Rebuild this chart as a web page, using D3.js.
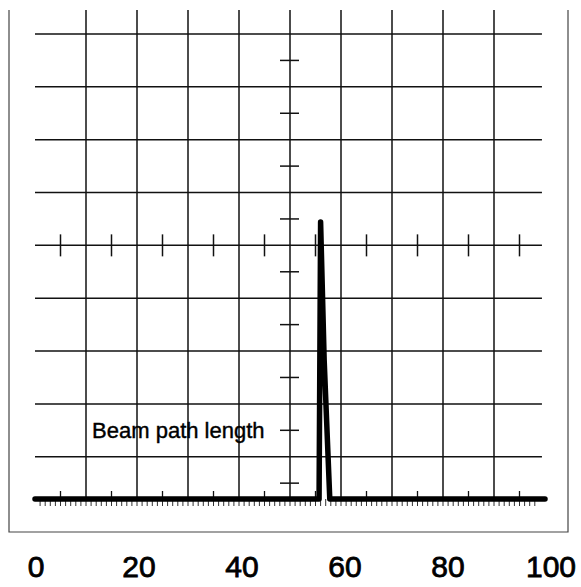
<!DOCTYPE html>
<html>
<head>
<meta charset="utf-8">
<script src="https://cdn.jsdelivr.net/npm/d3@7/dist/d3.min.js"></script>
<style>
  html, body { margin: 0; padding: 0; background: #fff; }
  svg { display: block; }
</style>
</head>
<body>
<svg id="chart" width="581" height="587"></svg>
<script>
// ---- data ----
const xTickLabels = [0, 20, 40, 60, 80, 100];
const xGridLines = [10, 20, 30, 40, 50, 60, 70, 80, 90];
const yGridLines = [0.8, 1.8, 2.8, 3.8, 4.8, 5.8, 6.8, 7.8, 8.8];
const xMidTicks = [5, 15, 25, 35, 45, 55, 65, 75, 85, 95];
const yMidTicks = [0.3, 1.3, 2.3, 3.3, 4.3, 5.3, 6.3, 7.3, 8.3];
const xMinorTicks = d3.range(1, 99);
const traceX = [0, 55.7, 56.0, 56.7, 57.8, 100];
const traceY = [0, 0, 5.24, 2.63, 0, 0];
const labelText = "Beam path length";
const labelPos = [11.2, 1.15];

// ---- scales ----
const svg = d3.select("#chart");
const x = d3.scaleLinear().domain([0, 100]).range([35, 545]);
const xLabel = d3.scaleLinear().domain([0, 100]).range([36, 551]);
const y = d3.scaleLinear().domain([0, 8.8]).range([499, 34]);
const topY = 10;

// frame (left, right, bottom)
svg.append("path")
  .attr("d", `M9,${topY} V532 H568 V${topY}`)
  .attr("fill", "none").attr("stroke", "#444").attr("stroke-width", 1.2);

// vertical grid lines
svg.append("g").selectAll("line").data(xGridLines).join("line")
  .attr("x1", d => x(d)).attr("x2", d => x(d))
  .attr("y1", topY).attr("y2", y(0))
  .attr("stroke", "#111").attr("stroke-width", 1.5);

// horizontal grid lines
svg.append("g").selectAll("line").data(yGridLines).join("line")
  .attr("x1", x(0)).attr("x2", x(99.4))
  .attr("y1", d => y(d)).attr("y2", d => y(d))
  .attr("stroke", "#111").attr("stroke-width", 1.5);

// ticks on central horizontal line
svg.append("g").selectAll("line").data(xMidTicks).join("line")
  .attr("x1", d => x(d)).attr("x2", d => x(d))
  .attr("y1", y(4.8) - 11).attr("y2", y(4.8) + 11)
  .attr("stroke", "#111").attr("stroke-width", 1.5);

// ticks on central vertical line
svg.append("g").selectAll("line").data(yMidTicks).join("line")
  .attr("x1", x(50) - 10).attr("x2", x(50) + 9)
  .attr("y1", d => y(d)).attr("y2", d => y(d))
  .attr("stroke", "#111").attr("stroke-width", 1.5);

// ticks above baseline
svg.append("g").selectAll("line").data(xMidTicks).join("line")
  .attr("x1", d => x(d)).attr("x2", d => x(d))
  .attr("y1", y(0) - 8).attr("y2", y(0))
  .attr("stroke", "#111").attr("stroke-width", 1.3);

// minor ticks below baseline
svg.append("g").selectAll("line").data(xMinorTicks).join("line")
  .attr("x1", d => x(d)).attr("x2", d => x(d))
  .attr("y1", y(0)).attr("y2", y(0) + 7)
  .attr("stroke", "#333").attr("stroke-width", 1);

// trace
const line = d3.line().x((d, i) => x(traceX[i])).y((d, i) => y(traceY[i]));
svg.append("path")
  .attr("d", line(traceX))
  .attr("fill", "none").attr("stroke", "#000").attr("stroke-width", 5.5)
  .attr("stroke-linejoin", "round").attr("stroke-linecap", "round");

// annotation
svg.append("text")
  .attr("x", x(labelPos[0])).attr("y", y(labelPos[1]))
  .attr("font-family", "Liberation Sans, Arial, sans-serif")
  .attr("font-size", 22).attr("fill", "#000")
  .attr("stroke", "#000").attr("stroke-width", 0.4)
  .text(labelText);

// x tick labels
svg.append("g").selectAll("text").data(xTickLabels).join("text")
  .attr("x", d => xLabel(d)).attr("y", 577)
  .attr("text-anchor", "middle")
  .attr("font-family", "Liberation Sans, Arial, sans-serif")
  .attr("font-size", 30).attr("fill", "#000")
  .attr("stroke", "#000").attr("stroke-width", 0.8)
  .text(d => d);
</script>
</body>
</html>
